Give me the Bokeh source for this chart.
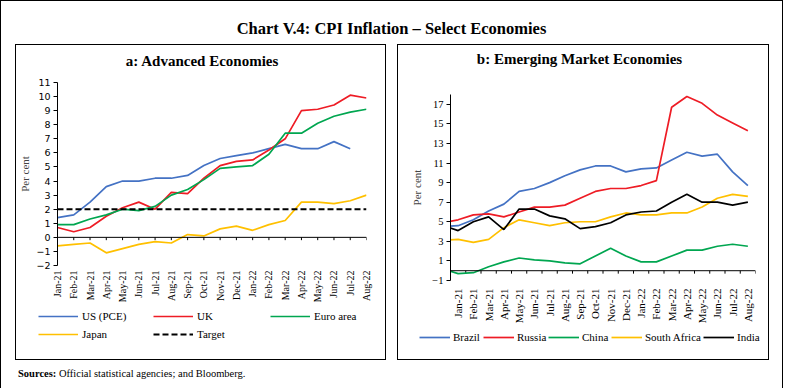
import math
from bokeh.plotting import figure
from bokeh.layouts import column, row
from bokeh.models import (Div, Span, Legend, LegendItem, FixedTicker, Range1d, Spacer, Label)
from bokeh.embed import file_html
from bokeh.resources import INLINE

# ---------------- data ----------------
months = ["Jan-21", "Feb-21", "Mar-21", "Apr-21", "May-21", "Jun-21", "Jul-21", "Aug-21",
          "Sep-21", "Oct-21", "Nov-21", "Dec-21", "Jan-22", "Feb-22", "Mar-22", "Apr-22",
          "May-22", "Jun-22", "Jul-22", "Aug-22"]

# Panel a: Advanced Economies
us_pce = [1.4, 1.6, 2.5, 3.6, 4.0, 4.0, 4.2, 4.2, 4.4, 5.1, 5.6, 5.8, 6.0, 6.3, 6.6, 6.3, 6.3, 6.8, 6.3]
uk = [0.7, 0.4, 0.7, 1.5, 2.1, 2.5, 2.0, 3.2, 3.1, 4.2, 5.1, 5.4, 5.5, 6.2, 7.0, 9.0, 9.1, 9.4, 10.1, 9.9]
euro_area = [0.9, 0.9, 1.3, 1.6, 2.0, 1.9, 2.2, 3.0, 3.4, 4.1, 4.9, 5.0, 5.1, 5.9, 7.4, 7.4, 8.1, 8.6, 8.9, 9.1]
japan = [-0.6, -0.5, -0.4, -1.1, -0.8, -0.5, -0.3, -0.4, 0.2, 0.1, 0.6, 0.8, 0.5, 0.9, 1.2, 2.5, 2.5, 2.4, 2.6, 3.0]
target = [2.0] * 20

# Panel b: Emerging Market Economies (series begin at Dec-20, which sits just left of the axis)
months_b = ["Dec-20"] + months
brazil = [4.5, 4.6, 5.2, 6.1, 6.8, 8.1, 8.4, 9.0, 9.7, 10.3, 10.7, 10.7, 10.1, 10.4, 10.5, 11.3, 12.1, 11.7, 11.9, 10.1, 8.7]
russia = [4.9, 5.2, 5.7, 5.8, 5.5, 6.0, 6.5, 6.5, 6.7, 7.4, 8.1, 8.4, 8.4, 8.7, 9.2, 16.7, 17.8, 17.1, 15.9, 15.1, 14.3]
china = [0.2, -0.3, -0.2, 0.4, 0.9, 1.3, 1.1, 1.0, 0.8, 0.7, 1.5, 2.3, 1.5, 0.9, 0.9, 1.5, 2.1, 2.1, 2.5, 2.7, 2.5]
south_africa = [3.1, 3.2, 2.9, 3.2, 4.4, 5.2, 4.9, 4.6, 4.9, 5.0, 5.0, 5.5, 5.9, 5.7, 5.7, 5.9, 5.9, 6.5, 7.4, 7.8, 7.6]
india = [4.6, 4.1, 5.0, 5.5, 4.2, 6.3, 6.3, 5.6, 5.3, 4.3, 4.5, 4.9, 5.7, 6.0, 6.1, 7.0, 7.8, 7.0, 7.0, 6.7, 7.0]

ticks_a = list(range(-2, 12))
ticks_b = list(range(-1, 18, 2))

# ---------------- styling ----------------
SERIF = "Liberation Serif"
BLUE, RED, GREEN, ORANGE, BLACK = "#4472C4", "#EE1C25", "#00A650", "#FFC000", "#000000"
LW = 1.7
DASH = "6 3"

xa = list(range(len(months)))
xb = [i - 1 for i in range(len(months_b))]
tick_labels = {i: m for i, m in enumerate(months)}


def style_main(p, ytick_font, ytick_size, xtick_size, standoff_x, label_standoff):
    p.frame_align = False
    p.xgrid.visible = False
    p.ygrid.visible = False
    p.outline_line_color = None
    p.background_fill_color = "white"
    p.border_fill_color = "white"
    ax = p.xaxis[0]
    ax.ticker = FixedTicker(ticks=list(range(len(months))))
    ax.major_label_overrides = tick_labels
    ax.major_label_orientation = math.pi / 2
    ax.axis_line_color = None
    ax.major_tick_line_color = None
    ax.major_tick_in = 0
    ax.major_tick_out = 0
    ax.minor_tick_line_color = None
    ax.minor_tick_in = 0
    ax.minor_tick_out = 0
    ax.major_label_text_font = SERIF
    ax.major_label_text_font_size = xtick_size
    ax.major_label_text_color = "black"
    ax.major_label_standoff = standoff_x
    ya = p.yaxis[0]
    ya.minor_tick_line_color = None
    ya.minor_tick_in = 0
    ya.minor_tick_out = 0
    ya.major_tick_in = 0
    ya.major_tick_out = 4
    ya.axis_line_color = "black"
    ya.major_tick_line_color = "black"
    ya.major_label_text_font = ytick_font
    ya.major_label_text_font_size = ytick_size
    ya.major_label_text_color = "black"
    ya.major_label_standoff = 3
    ya.axis_label = "Per cent"
    ya.axis_label_text_font = SERIF
    ya.axis_label_text_font_style = "normal"
    ya.axis_label_text_font_size = "11px"
    ya.axis_label_standoff = label_standoff


def blank_fig(w, h):
    # a figure whose frame is the whole canvas (used for the subtitle and legend strips)
    lf = figure(width=w, height=h, x_range=Range1d(0, 1), y_range=Range1d(100, 101),
                output_backend="svg", toolbar_location=None,
                x_axis_location=None, y_axis_location=None,
                min_border=0, min_border_left=0, min_border_right=0,
                min_border_top=0, min_border_bottom=0)
    lf.frame_align = False
    lf.xgrid.visible = False
    lf.ygrid.visible = False
    lf.outline_line_color = None
    lf.border_fill_color = "white"
    lf.background_fill_color = "white"
    return lf


def add_item(lf, label, xs, ys, color, x, y, glyph_w, width=LW, dash="solid", standoff=4):
    # the series is drawn outside this strip's visible range; only its legend entry shows
    r = lf.line(x=xs, y=ys, line_color=color, line_width=width, line_dash=dash)
    lg = Legend(items=[LegendItem(label=label, renderers=[r])], location=(x, y),
                border_line_color=None, background_fill_alpha=0,
                padding=0, margin=0, spacing=0,
                glyph_width=glyph_w, glyph_height=12, label_height=12,
                label_standoff=standoff, label_text_font=SERIF, label_text_font_size="11px",
                label_text_color="black")
    lf.add_layout(lg, "center")


def header(w, h, text, x, y):
    hf = blank_fig(w, h)
    hf.add_layout(Label(x=x, y=y, x_units="screen", y_units="screen", text=text,
                        text_align="center", text_baseline="middle", text_font=SERIF,
                        text_font_size="15px", text_font_style="bold", text_color="black"))
    return hf


# ---------------- panel a ----------------
ha = header(369, 32, "a: Advanced Economies", 186, 17)

pa = figure(width=369, height=230, x_range=Range1d(0, 19), y_range=Range1d(-2, 11),
            output_backend="svg", toolbar_location=None,
            min_border_left=35, min_border_right=19, min_border_top=5, min_border_bottom=42)
style_main(pa, "DejaVu Sans", "9.5px", "10px", 5, 2)
pa.yaxis[0].ticker = FixedTicker(ticks=ticks_a)

pa.add_layout(Span(location=0, dimension="width", line_color="black", line_width=1))
pa.segment(x0=xa, y0=[0] * len(xa), x1=xa, y1=[-0.2] * len(xa), line_color="black", line_width=1)

pa.line(xa[:len(us_pce)], us_pce, line_color=BLUE, line_width=LW)
pa.line(xa, uk, line_color=RED, line_width=LW)
pa.line(xa, euro_area, line_color=GREEN, line_width=LW)
pa.line(xa, japan, line_color=ORANGE, line_width=LW)
pa.line(xa, target, line_color=BLACK, line_width=2, line_dash=DASH)

la = blank_fig(369, 52)
add_item(la, "US (PCE)", xa[:len(us_pce)], us_pce, BLUE, 22, 37, 40)
add_item(la, "UK", xa, uk, RED, 137, 37, 40)
add_item(la, "Euro area", xa, euro_area, GREEN, 254, 37, 40)
add_item(la, "Japan", xa, japan, ORANGE, 22, 19, 40)
add_item(la, "Target", xa, target, BLACK, 137, 19, 40, width=2, dash=DASH)

# ---------------- panel b ----------------
hb = header(370, 44, "b: Emerging Market Economies", 181, 31)

pb = figure(width=370, height=237, x_range=Range1d(-0.5, 19.5), y_range=Range1d(-1, 18),
            output_backend="svg", toolbar_location=None,
            min_border_left=52, min_border_right=13, min_border_top=5, min_border_bottom=42)
style_main(pb, SERIF, "10.5px", "11px", 8, 6)
pb.yaxis[0].ticker = FixedTicker(ticks=ticks_b)

bounds = [i - 0.5 for i in range(len(months) + 1)]
pb.add_layout(Span(location=0, dimension="width", line_color="black", line_width=1))
pb.segment(x0=bounds, y0=[0] * len(bounds), x1=bounds, y1=[-0.3] * len(bounds), line_color="black", line_width=1)

pb.line(xb, brazil, line_color=BLUE, line_width=LW)
pb.line(xb, russia, line_color=RED, line_width=LW)
pb.line(xb, china, line_color=GREEN, line_width=LW)
pb.line(xb, south_africa, line_color=ORANGE, line_width=LW)
pb.line(xb, india, line_color=BLACK, line_width=LW)

lb = blank_fig(370, 33)
add_item(lb, "Brazil", xb, brazil, BLUE, 21, 16, 31, standoff=3)
add_item(lb, "Russia", xb, russia, RED, 85, 16, 31, standoff=3)
add_item(lb, "China", xb, china, GREEN, 150, 16, 31, standoff=3)
add_item(lb, "South Africa", xb, south_africa, ORANGE, 213, 16, 31, standoff=3)
add_item(lb, "India", xb, india, BLACK, 305, 16, 31, standoff=3)

# ---------------- page ----------------
BOX = {"border": "1px solid black", "box-sizing": "border-box", "background": "white"}
panel_a = column(ha, pa, la, width=371, height=316, spacing=0, styles=BOX)
panel_b = column(hb, pb, lb, width=372, height=316, spacing=0, styles=BOX)

title = Div(text='<div style="padding-top:11px">Chart V.4: CPI Inflation – Select Economies</div>',
            width=771, height=33,
            styles={"text-align": "center", "font-family": SERIF, "font-size": "16.5px",
                    "font-weight": "bold", "color": "black"})
sources = Div(text='<div style="padding-top:1px"><b>Sources:</b> Official statistical agencies; and Bloomberg.</div>',
              width=750, height=23,
              styles={"font-family": SERIF, "font-size": "10.5px", "color": "black"})
panels = row(Spacer(width=14, height=316), panel_a, Spacer(width=11, height=316), panel_b, spacing=0)
src_row = row(Spacer(width=12, height=23), sources, spacing=0)
page = column(title, panels, src_row, spacing=0, styles=BOX)

open("out.html", "w").write(file_html(page, INLINE))
